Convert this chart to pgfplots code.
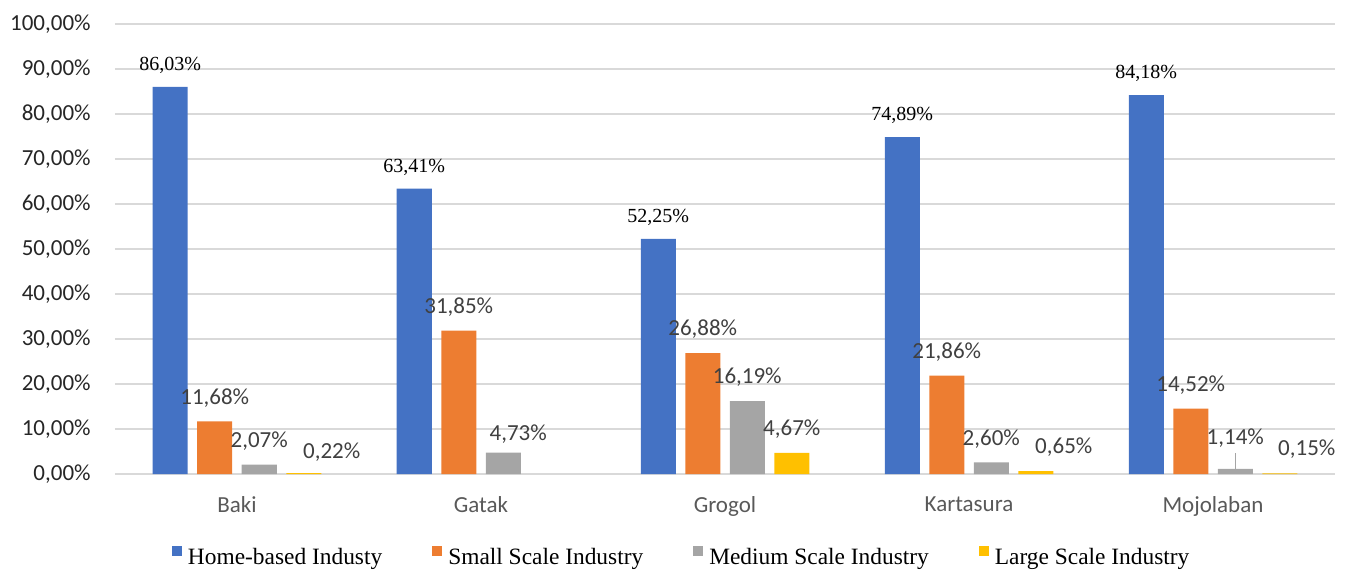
\documentclass[border=0pt]{standalone}
\usepackage{fontspec}
\setmainfont{Carlito}
\newfontfamily\serif{Liberation Serif}
\usepackage{pgfplots}
\usepackage{pgfplotstable}
\pgfplotsset{compat=1.18}

\definecolor{cblue}{HTML}{4472C4}
\definecolor{corange}{HTML}{ED7D31}
\definecolor{cgray}{HTML}{A5A5A5}
\definecolor{cyellow}{HTML}{FFC000}
\definecolor{gridc}{HTML}{D9D9D9}
\definecolor{labc}{HTML}{404040}
\definecolor{tickc}{HTML}{262626}
\definecolor{catc}{HTML}{595959}

% x value label dx(pt) dy(pt)
\pgfplotstableread{
x y lab dx dy
0 86.03 86,03 0 11.5
1 63.41 63,41 0 11.5
2 52.25 52,25 0 11.5
3 74.89 74,89 0 11.5
4 84.18 84,18 0 11.5
}\home
\pgfplotstableread{
x y lab dx dy
0 11.68 11,68 0 12.5
1 31.85 31,85 0 12.5
2 26.88 26,88 0 12.5
3 21.86 21,86 0 12.5
4 14.52 14,52 0 12.5
}\small
\pgfplotstableread{
x y lab dx dy
0 2.07 2,07 0 12.5
1 4.73 4,73 7.5 10.25
2 16.19 16,19 0 13
3 2.60 2,60 0 12.5
4 1.14 1,14 0 16
}\medium
\pgfplotstableread{
x y lab dx dy
0 0.22 0,22 14 11
2 4.67 4,67 0 12.75
3 0.65 0,65 14 12.5
4 0.15 0,15 13.5 13
}\large

\begin{document}
\begin{tikzpicture}
\begin{axis}[
  scale only axis,
  width=610pt, height=225pt,
  ybar=4.75pt, bar width=17.5pt,
  xmin=-0.5, xmax=4.5, ymin=0, ymax=100,
  enlargelimits=false,
  clip=false,
  axis line style={draw=none},
  major tick length=0pt,
  ymajorgrids,
  grid style={gridc, line width=0.75pt},
  xtick={0,1,2,3,4},
  xticklabels={Baki,Gatak,Grogol,Kartasura,Mojolaban},
  ytick={0,10,20,30,40,50,60,70,80,90,100},
  yticklabels={{0,00\%},{10,00\%},{20,00\%},{30,00\%},{40,00\%},{50,00\%},{60,00\%},{70,00\%},{80,00\%},{90,00\%},{100,00\%}},
  yticklabel style={font=\fontsize{11.5}{13}\selectfont, text=tickc, anchor=east, inner sep=0pt, xshift=-12pt},
  xticklabel style={font=\fontsize{11.5}{13}\selectfont, text=catc, anchor=center, inner sep=0pt, text depth=0pt, yshift=-15.25pt},
  point meta=explicit symbolic,
  visualization depends on={\thisrow{dx} \as \dx},
  visualization depends on={\thisrow{dy} \as \dy},
  nodes near coords={\pgfplotspointmeta\%},
  nodes near coords style={anchor=center, inner sep=0pt, text depth=0pt, xshift=\dx pt, yshift=\dy pt, font=\fontsize{11.5}{13}\selectfont, text=labc},
  legend style={draw=none, fill=none, inner sep=0pt, outer sep=0pt,
    at={(axis description cs:0.0467,-0.1837)}, anchor=west,
    font=\serif\fontsize{11.7}{14}\selectfont,
    nodes={inner sep=0pt},
    /tikz/every odd column/.append style={column sep=3pt},
    /tikz/every even column/.append style={column sep=25pt}},
  legend columns=4,
  legend image code/.code={\fill[#1] (0pt,0.65pt) rectangle (5pt,5.65pt);},
]
\addplot[fill=cblue, draw=none, nodes near coords style={font=\serif\fontsize{10}{12}\selectfont, text=black}] table[x=x, y=y, meta=lab] {\home};
\addplot[fill=corange, draw=none] table[x=x, y=y, meta=lab] {\small};
\addplot[fill=cgray, draw=none] table[x=x, y=y, meta=lab] {\medium};
\addplot[fill=cyellow, draw=none] table[x=x, y=y, meta=lab] {\large};
\legend{Home-based Industy, Small Scale Industry, Medium Scale Industry, Large Scale Industry}
\draw[cgray, line width=0.6pt] ([xshift=11.125pt]axis cs:4,1.14) -- ([xshift=11.125pt,yshift=8pt]axis cs:4,1.14);
\end{axis}
\pgfresetboundingbox
\path ([xshift=-57.5pt,yshift=-48pt]current axis.south west) rectangle ([xshift=8.5pt,yshift=12pt]current axis.north east);
\end{tikzpicture}
\end{document}
